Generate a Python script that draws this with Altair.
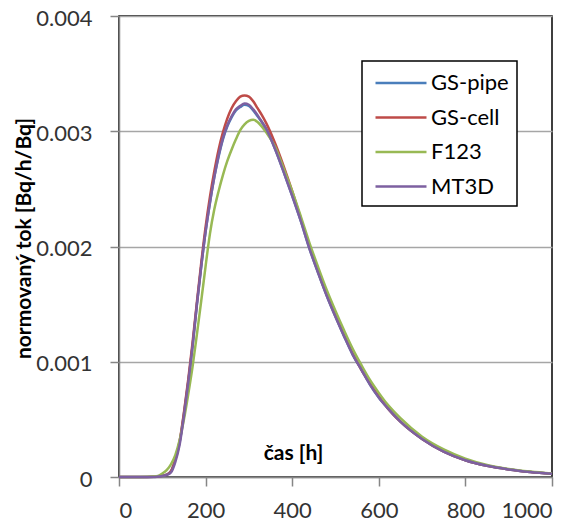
import altair as alt
import pandas as pd

time_h = [0, 50, 80, 90, 100, 110, 120, 130, 140, 150, 160, 170, 180, 190, 200,
          210, 220, 230, 240, 250, 260, 270, 280, 290, 300, 310, 320, 330, 340,
          360, 380, 400, 420, 440, 460, 480, 500, 520, 540, 560, 580, 600, 620,
          650, 700, 750, 800, 850, 900, 950, 1000]

gs_pipe = [0, 0, 0.000002, 0.000005, 0.00001, 0.00002, 0.00005, 0.00015, 0.00030, 0.00055,
           0.00083, 0.00114, 0.00150, 0.00183, 0.00213, 0.00238, 0.00260, 0.00278, 0.00293,
           0.00304, 0.00312, 0.00318, 0.00321, 0.00323, 0.00322, 0.00318, 0.00313, 0.00308,
           0.00302, 0.00285, 0.00265, 0.00244, 0.00222, 0.00198, 0.00177, 0.00157, 0.00139,
           0.00122, 0.00106, 0.00093, 0.00080, 0.00069, 0.00060, 0.00048, 0.00033, 0.00022,
           0.000145, 0.000097, 0.000066, 0.000044, 0.000028]

gs_cell = [0, 0, 0.000002, 0.000005, 0.00001, 0.00002, 0.00005, 0.00015, 0.00031, 0.00056,
           0.00085, 0.00117, 0.00152, 0.00186, 0.00217, 0.00243, 0.00265, 0.00284, 0.00299,
           0.00311, 0.00320, 0.00326, 0.00330, 0.00331, 0.00330, 0.00326, 0.00320, 0.00314,
           0.00307, 0.00290, 0.00270, 0.00248, 0.00224, 0.00200, 0.00178, 0.00158, 0.00140,
           0.00123, 0.00107, 0.00093, 0.00081, 0.00070, 0.00060, 0.00048, 0.00033, 0.00022,
           0.000145, 0.000097, 0.000066, 0.000044, 0.000028]

f123 = [0, 0.000001, 0.000005, 0.00001, 0.00003, 0.00006, 0.00011, 0.00019, 0.00032, 0.00050,
        0.00072, 0.00096, 0.00124, 0.00153, 0.00183, 0.00211, 0.00232, 0.00248, 0.00262,
        0.00274, 0.00284, 0.00293, 0.00301, 0.00306, 0.00309, 0.00310, 0.00308, 0.00304,
        0.00299, 0.00287, 0.00268, 0.00248, 0.00226, 0.00203, 0.00182, 0.00162, 0.00144,
        0.00127, 0.00111, 0.00097, 0.00084, 0.00073, 0.00063, 0.00051, 0.00035, 0.00024,
        0.00016, 0.000105, 0.00007, 0.000047, 0.00003]

mt3d = [0, 0, 0.000001, 0.000004, 0.000008, 0.000018, 0.00004, 0.00013, 0.00028, 0.00053,
        0.00082, 0.00114, 0.00150, 0.00183, 0.00213, 0.00238, 0.00260, 0.00279, 0.00294,
        0.00305, 0.00313, 0.00319, 0.00322, 0.00324, 0.00323, 0.00319, 0.00314, 0.00308,
        0.00302, 0.00285, 0.00265, 0.00244, 0.00222, 0.00198, 0.00177, 0.00157, 0.00139,
        0.00122, 0.00106, 0.00093, 0.00080, 0.00069, 0.00060, 0.00048, 0.00033, 0.00022,
        0.000145, 0.000097, 0.000066, 0.000044, 0.000028]

series_names = ["GS-pipe", "GS-cell", "F123", "MT3D"]
series_colors = ["#4A7EBB", "#BE4B48", "#98B954", "#7D60A0"]
x_ticks = [0, 200, 400, 600, 800, 1000]
y_ticks = [0, 0.001, 0.002, 0.003, 0.004]

rows = []
for idx, (name, vals) in enumerate(zip(series_names, [gs_pipe, gs_cell, f123, mt3d])):
    for t, v in zip(time_h, vals):
        rows.append({"t": t, "v": v, "serie": name, "k": idx})
df = pd.DataFrame(rows)

FONT = "Lato"

chart = alt.Chart(df).mark_line(strokeWidth=2.5, interpolate="monotone").encode(
    x=alt.X("t:Q",
            scale=alt.Scale(domain=[0, 1000], nice=False),
            axis=alt.Axis(values=x_ticks, title="čas [h]", grid=False, format="d",
                          titleX=174, titleY=-24, titleBaseline="middle", titleAlign="center",
                          tickSize=9, labelPadding=14, labelFontSize=22, labelFont=FONT,
                          labelColor="#333333", titleFont=FONT, titleFontSize=21,
                          titleFontWeight="bold", titleColor="#000000")),
    y=alt.Y("v:Q",
            scale=alt.Scale(domain=[0, 0.004], nice=False),
            axis=alt.Axis(values=y_ticks, title="normovaný tok [Bq/h/Bq]", grid=True,
                          labelExpr="datum.value == 0 ? '0' : format(datum.value, '.3f')",
                          titleX=-95, titleY=222, titleBaseline="middle", titleAlign="center",
                          tickSize=9, labelPadding=18, labelOffset=2, labelFontSize=22,
                          labelFont=FONT, labelColor="#333333", titleFont=FONT,
                          titleFontSize=21, titleFontWeight="bold", titleColor="#000000")),
    color=alt.Color("serie:N",
                    scale=alt.Scale(domain=series_names, range=series_colors),
                    legend=alt.Legend(title=None, orient="none", legendX=243, legendY=45,
                                      direction="vertical",
                                      symbolType="M-2,0L2,0", symbolSize=650,
                                      symbolStrokeWidth=2.5, labelFont=FONT, labelFontSize=22,
                                      labelColor="#000000", labelOffset=16, symbolOffset=17,
                                      padding=8, rowPadding=9.5, strokeColor="#000000",
                                      fillColor="#ffffff")),
    order=alt.Order("k:Q"),
).properties(
    width=433, height=461,
    autosize=alt.AutoSizeParams(type="none"),
    padding={"left": 111, "top": 8, "right": 28, "bottom": 50},
).configure_view(
    stroke="#000000", strokeWidth=1.5
).configure_axis(
    domainColor="#868686", domainWidth=1.5, tickColor="#868686", tickWidth=1.5,
    gridColor="#A6A6A6", gridWidth=1.5
).configure_legend(
    strokeWidth=1.5
)

chart.save("out.html", embed_options={"renderer": "svg", "actions": False})
